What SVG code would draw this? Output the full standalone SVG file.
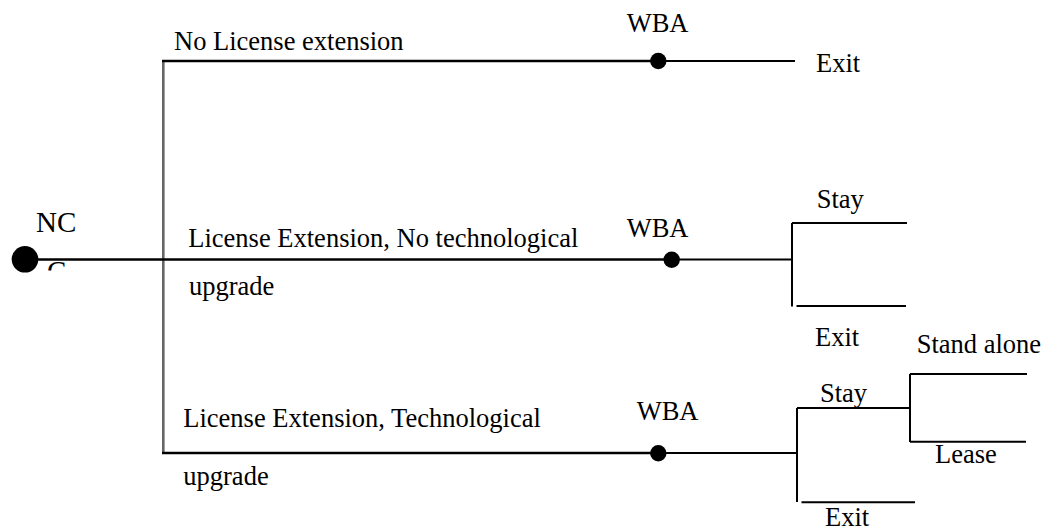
<svg xmlns="http://www.w3.org/2000/svg" width="1045" height="531" viewBox="0 0 1045 531">
<style>
.t{font-family:"Liberation Serif","Times New Roman",serif;font-size:26.5px;fill:#000}
.nc{font-family:"Liberation Serif","Times New Roman",serif;font-size:29px;fill:#000}
.main{stroke:#000;stroke-width:2.6;fill:none}
.br{stroke:#000;stroke-width:2;fill:none}
.trunk{stroke:#666;stroke-width:2.6;fill:none}
.dot{fill:#000}
</style>
<defs>
<clipPath id="clipC"><rect x="0" y="261" width="120" height="9.5"/></clipPath>
</defs>
<rect width="1045" height="531" fill="#fff"/>
<g id="connectors">
<line class="trunk" x1="163.3" y1="60.5" x2="163.3" y2="453.5"/>
<line class="main" x1="162" y1="61" x2="658" y2="61"/>
<line class="br" x1="658" y1="61" x2="795" y2="61"/>
<line class="main" x1="25" y1="259.5" x2="672" y2="259.5"/>
<line class="br" x1="672" y1="259.5" x2="792" y2="259.5"/>
<line class="br" x1="792" y1="223" x2="792" y2="306.5"/>
<line class="br" x1="792" y1="223" x2="907" y2="223"/>
<line class="br" x1="796.5" y1="306" x2="906" y2="306"/>
<line class="main" x1="162" y1="453" x2="658" y2="453"/>
<line class="br" x1="658" y1="453" x2="797" y2="453"/>
<line class="br" x1="797" y1="408" x2="797" y2="502"/>
<line class="br" x1="797" y1="408" x2="910" y2="408"/>
<line class="br" x1="910" y1="374" x2="910" y2="442"/>
<line class="br" x1="910" y1="374" x2="1027" y2="374"/>
<line class="br" x1="910" y1="441.7" x2="1026" y2="441.7"/>
<line class="br" x1="801.5" y1="502.3" x2="915" y2="502.3"/>
</g>
<g id="node-nc">
<circle class="dot" cx="25" cy="259.3" r="13.3"/>
<text class="nc" x="36" y="232.3">NC</text>
<text class="nc" x="47" y="280.5" clip-path="url(#clipC)">C</text>
</g>
<g id="node-wba1">
<circle class="dot" cx="658.3" cy="61" r="8.2"/>
<text class="t" x="626.7" y="32.3">WBA</text>
</g>
<g id="node-wba2">
<circle class="dot" cx="671.7" cy="259.7" r="8.2"/>
<text class="t" x="626.7" y="236.7">WBA</text>
</g>
<g id="node-wba3">
<circle class="dot" cx="658.3" cy="453.3" r="8.2"/>
<text class="t" x="636.7" y="420">WBA</text>
</g>
<g id="labels">
<text class="t" x="174" y="50">No License extension</text>
<text class="t" x="816" y="71.7">Exit</text>
<text class="t" x="188.3" y="246.7">License Extension, No technological</text>
<text class="t" x="189" y="295">upgrade</text>
<text class="t" x="816.7" y="208">Stay</text>
<text class="t" x="815" y="345.5">Exit</text>
<text class="t" x="183.3" y="426.7">License Extension, Technological</text>
<text class="t" x="183.3" y="485">upgrade</text>
<text class="t" x="820" y="401.7">Stay</text>
<text class="t" x="916.7" y="353.3">Stand alone</text>
<text class="t" x="935" y="463">Lease</text>
<text class="t" x="825" y="526">Exit</text>
</g>
</svg>
